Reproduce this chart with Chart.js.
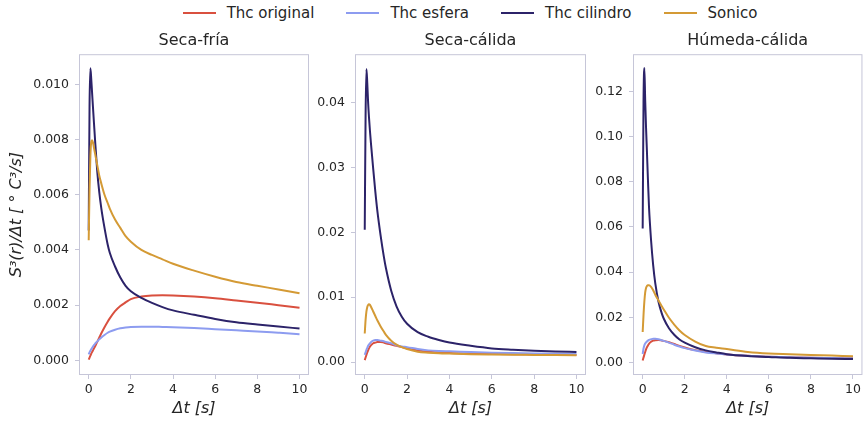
<!DOCTYPE html>
<html>
<head>
<meta charset="utf-8">
<script src="https://cdn.jsdelivr.net/npm/chart.js@4"></script>
<style>
  html, body { margin: 0; padding: 0; background: #fff; }
  body { width: 864px; height: 422px; position: relative; overflow: hidden; font-family: "DejaVu Sans", sans-serif; }
  .panel { position: absolute; top: 28px; height: 394px; }
  #legend { position: absolute; top: 2px; left: 0; width: 940px; height: 22px; display: flex; justify-content: center; align-items: center; font-size: 15px; color: #262626; }
  .item { display: flex; align-items: center; margin: 0 16px; }
  .swatch { width: 33px; height: 2px; margin-right: 11px; }
</style>
</head>
<body>
<div id="legend"></div>
<div class="panel" style="left:0;width:312px"><canvas id="c1"></canvas></div>
<div class="panel" style="left:316px;width:274px"><canvas id="c2"></canvas></div>
<div class="panel" style="left:592px;width:272px"><canvas id="c3"></canvas></div>
<script>
// time lags (s), shared by all panels
const dt = [0, 0.04, 0.08, 0.12, 0.16, 0.2, 0.25, 0.3, 0.4, 0.5, 0.6, 0.75, 0.9, 1.0, 1.25, 1.5, 1.75, 2.0, 2.5, 3.0, 3.5, 4.0, 5.0, 6.0, 7.0, 8.0, 9.0, 10.0];

const seriesNames = ['Thc original', 'Thc esfera', 'Thc cilindro', 'Sonico'];
const panelTitles = ['Seca-fría', 'Seca-cálida', 'Húmeda-cálida'];
const xTicks = [0, 2, 4, 6, 8, 10];

// Seca-fría
const original1 = [0.00003, 0.0001, 0.00017, 0.00024, 0.0003, 0.00036, 0.00043, 0.0005, 0.00066, 0.00082, 0.00098, 0.0012, 0.0014, 0.00152, 0.00178, 0.00197, 0.0021, 0.00222, 0.00231, 0.00235, 0.00236, 0.00235, 0.00231, 0.00225, 0.00217, 0.00209, 0.002, 0.00191];
const esfera1 = [0.00022, 0.00029, 0.00035, 0.0004, 0.00045, 0.0005, 0.00055, 0.0006, 0.00068, 0.00076, 0.00083, 0.00092, 0.001, 0.00104, 0.00111, 0.00116, 0.00119, 0.00121, 0.00122, 0.00122, 0.00121, 0.0012, 0.00117, 0.00113, 0.00109, 0.00105, 0.001, 0.00095];
const cilindro1 = [0.0047, 0.0092, 0.01058, 0.0102, 0.0097, 0.0092, 0.0086, 0.008, 0.0069, 0.0061, 0.0055, 0.0048, 0.0042, 0.0039, 0.0034, 0.003, 0.0027, 0.0025, 0.00226, 0.00208, 0.00193, 0.00181, 0.00165, 0.0015, 0.00138, 0.0013, 0.00123, 0.00115];
const sonico1 = [0.00435, 0.0062, 0.0074, 0.0079, 0.00797, 0.0079, 0.0077, 0.0075, 0.0071, 0.0067, 0.0064, 0.006, 0.0057, 0.0055, 0.0051, 0.0048, 0.0045, 0.0043, 0.004, 0.00382, 0.00366, 0.0035, 0.00325, 0.00303, 0.00284, 0.0027, 0.00257, 0.00243];
const yTicks1 = [0, 0.002, 0.004, 0.006, 0.008, 0.010];

// Seca-cálida
const original2 = [0.0003, 0.0007, 0.0011, 0.0015, 0.0018, 0.0021, 0.0024, 0.0026, 0.0029, 0.003, 0.0031, 0.0031, 0.003, 0.0029, 0.0027, 0.0025, 0.0023, 0.0021, 0.0018, 0.0016, 0.0015, 0.0014, 0.0013, 0.00125, 0.0012, 0.00116, 0.00113, 0.0011];
const esfera2 = [0.0011, 0.0015, 0.0019, 0.0022, 0.0025, 0.0027, 0.0029, 0.0031, 0.0033, 0.0034, 0.0034, 0.0033, 0.0032, 0.0031, 0.0029, 0.0026, 0.0024, 0.0023, 0.002, 0.0018, 0.0017, 0.00165, 0.00155, 0.00145, 0.00138, 0.00132, 0.00127, 0.00123];
const cilindro2 = [0.0204, 0.038, 0.0452, 0.043, 0.04, 0.0378, 0.0355, 0.0335, 0.0298, 0.0263, 0.0232, 0.0195, 0.0163, 0.0145, 0.011, 0.0086, 0.007, 0.0059, 0.0046, 0.0039, 0.0034, 0.003, 0.0025, 0.0021, 0.0019, 0.00175, 0.00163, 0.00154];
const sonico2 = [0.0044, 0.0065, 0.0078, 0.0085, 0.0088, 0.0089, 0.0088, 0.0085, 0.0078, 0.0071, 0.0064, 0.0055, 0.0047, 0.0042, 0.0033, 0.0027, 0.0023, 0.002, 0.0016, 0.00145, 0.00135, 0.0013, 0.00122, 0.00117, 0.00113, 0.0011, 0.00107, 0.00104];
const yTicks2 = [0, 0.01, 0.02, 0.03, 0.04];

// Húmeda-cálida
const original3 = [0.0009, 0.0022, 0.0035, 0.0047, 0.0058, 0.0067, 0.0076, 0.0083, 0.0092, 0.0097, 0.0099, 0.01, 0.0098, 0.0096, 0.009, 0.0082, 0.0074, 0.0067, 0.0055, 0.0047, 0.0041, 0.0036, 0.003, 0.0026, 0.0023, 0.0021, 0.002, 0.0019];
const esfera3 = [0.0038, 0.0062, 0.0076, 0.0084, 0.0089, 0.0093, 0.0097, 0.01, 0.0103, 0.0105, 0.0105, 0.0103, 0.0099, 0.0096, 0.0088, 0.0079, 0.0071, 0.0064, 0.0053, 0.0045, 0.004, 0.0036, 0.003, 0.0026, 0.0023, 0.0021, 0.002, 0.0019];
const cilindro3 = [0.0593, 0.115, 0.1303, 0.116, 0.104, 0.094, 0.081, 0.069, 0.054, 0.043, 0.035, 0.027, 0.022, 0.0195, 0.0152, 0.0123, 0.0102, 0.0088, 0.0068, 0.0054, 0.0045, 0.0037, 0.0029, 0.0025, 0.0021, 0.0019, 0.0017, 0.0016];
const sonico3 = [0.0135, 0.021, 0.027, 0.031, 0.033, 0.0338, 0.0342, 0.0342, 0.0335, 0.032, 0.03, 0.0275, 0.025, 0.0235, 0.0198, 0.0168, 0.0142, 0.0122, 0.0093, 0.0073, 0.0066, 0.006, 0.0047, 0.004, 0.0037, 0.0034, 0.0031, 0.0028];
const yTicks3 = [0, 0.02, 0.04, 0.06, 0.08, 0.10, 0.12];

const colors = ['#d9503f', '#8d9cf0', '#2c2369', '#d49a35'];
const frameColor = '#c6c6d8';
const textColor = '#262626';
const fontFamily = '"DejaVu Sans", sans-serif';

// build the shared legend above the panels
const legend = document.getElementById('legend');
seriesNames.forEach((name, i) => {
  const item = document.createElement('div');
  item.className = 'item';
  const sw = document.createElement('span');
  sw.className = 'swatch';
  sw.style.background = colors[i];
  const label = document.createElement('span');
  label.textContent = name;
  item.appendChild(sw);
  item.appendChild(label);
  legend.appendChild(item);
});

// box round the plot area, like matplotlib spines
const framePlugin = {
  id: 'frame',
  afterDatasetsDraw(chart) {
    const { ctx, chartArea: a } = chart;
    ctx.save();
    ctx.strokeStyle = frameColor;
    ctx.lineWidth = 1;
    ctx.strokeRect(a.left + 0.5, a.top + 0.5, a.right - a.left - 1, a.bottom - a.top - 1);
    ctx.restore();
  }
};

function renderPanel(canvasId, title, series, yTicks, yRange, decimals, yAxisWidth, showYTitle, padRight) {
  const datasets = series.map((values, i) => ({
    label: seriesNames[i],
    data: dt.map((x, j) => ({ x: x, y: values[j] })),
    borderColor: colors[i],
    borderWidth: 2,
    pointRadius: 0,
    cubicInterpolationMode: 'monotone',
    order: series.length - i
  }));

  return new Chart(document.getElementById(canvasId), {
    type: 'line',
    data: { datasets: datasets },
    options: {
      responsive: true,
      maintainAspectRatio: false,
      animation: false,
      layout: { padding: { top: 0, right: padRight, bottom: 0, left: 0 } },
      plugins: {
        legend: { display: false },
        tooltip: { enabled: false },
        title: {
          display: true,
          fullSize: false,
          text: title,
          color: textColor,
          font: { family: fontFamily, size: 16, weight: 'normal' },
          padding: { top: 3, bottom: 4 }
        }
      },
      scales: {
        x: {
          type: 'linear',
          min: -0.46,
          max: 10.45,
          afterBuildTicks: (scale) => { scale.ticks = xTicks.map(v => ({ value: v })); },
          afterFit: (scale) => { scale.height = 47; },
          ticks: {
            color: textColor,
            font: { family: fontFamily, size: 12.5 },
            padding: 3,
            maxRotation: 0,
            callback: (v) => String(v)
          },
          grid: { drawOnChartArea: false, drawTicks: true, tickLength: 4, color: frameColor },
          border: { display: false },
          title: {
            display: true,
            text: 'Δt [s]',
            color: textColor,
            font: { family: fontFamily, size: 16, style: 'italic' },
            padding: { top: 0, bottom: 4 }
          }
        },
        y: {
          type: 'linear',
          min: yRange[0],
          max: yRange[1],
          afterBuildTicks: (scale) => { scale.ticks = yTicks.map(v => ({ value: v })); },
          afterFit: (scale) => { scale.width = yAxisWidth; },
          ticks: {
            color: textColor,
            font: { family: fontFamily, size: 12.5 },
            padding: 6,
            callback: (v) => Number(v).toFixed(decimals)
          },
          grid: { drawOnChartArea: false, drawTicks: true, tickLength: 4, color: frameColor },
          border: { display: false },
          title: {
            display: showYTitle,
            text: 'S³(r)/Δt [ ° C³/s]',
            color: textColor,
            font: { family: fontFamily, size: 16, style: 'italic' },
            padding: { top: 7, bottom: 0 }
          }
        }
      }
    },
    plugins: [framePlugin]
  });
}

renderPanel('c1', panelTitles[0], [original1, esfera1, cilindro1, sonico1], yTicks1, [-0.00053, 0.01109], 3, 79, true, 3);
renderPanel('c2', panelTitles[1], [original2, esfera2, cilindro2, sonico2], yTicks2, [-0.0020, 0.0475], 2, 39, false, 4);
renderPanel('c3', panelTitles[2], [original3, esfera3, cilindro3, sonico3], yTicks3, [-0.0055, 0.1364], 2, 41, false, 1);
</script>
</body>
</html>
